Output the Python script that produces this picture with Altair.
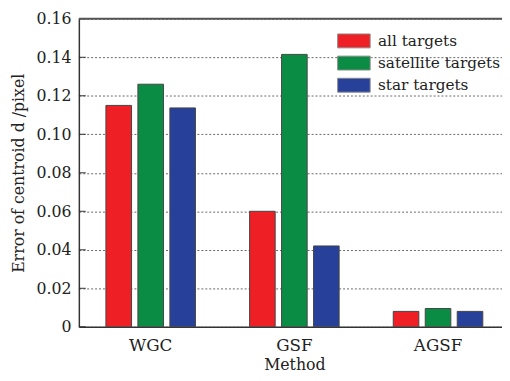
import altair as alt
import pandas as pd

methods = ["WGC", "GSF", "AGSF"]
series = ["all targets", "satellite targets", "star targets"]
all_targets = [0.115, 0.060, 0.008]
satellite_targets = [0.126, 0.1415, 0.0095]
star_targets = [0.1137, 0.042, 0.008]
colors = ["#EE2026", "#0A8C45", "#27419B"]
y_ticks = [0, 0.02, 0.04, 0.06, 0.08, 0.10, 0.12, 0.14, 0.16]

rows = []
for i, m in enumerate(methods):
    for s, vals in zip(series, [all_targets, satellite_targets, star_targets]):
        rows.append({"Method": m, "Series": s, "Value": vals[i]})
df = pd.DataFrame(rows)
ticks_df = pd.DataFrame({"Value": y_ticks})
top_df = pd.DataFrame({"Value": [0.16]})

FONT = "DejaVu Serif"

yscale = alt.Scale(domain=[0, 0.16], nice=False)
yaxis = alt.Axis(title="Error of centroid d /pixel", values=y_ticks,
                 labelExpr="datum.value == 0 ? '0' : format(datum.value, '.2f')",
                 labelOverlap=False, labelBound=False,
                 ticks=False, labelPadding=8, labelFont=FONT,
                 labelFontSize=16, labelColor="#222",
                 titleFont=FONT, titleFontSize=16, titleFontWeight="normal",
                 titleColor="#222", titlePadding=10,
                 grid=True, gridDash=[2, 2], gridColor="#666",
                 gridWidth=1, domainColor="#333", domainWidth=1.5)

bars = alt.Chart(df).mark_bar(stroke="#444444", strokeWidth=1).encode(
    x=alt.X("Method:N", sort=methods,
            scale=alt.Scale(range=[0, 438], paddingInner=0, paddingOuter=0),
            axis=alt.Axis(title="Method", labelAngle=0, ticks=False,
                          labelFont=FONT, labelFontSize=17, labelColor="#222",
                          labelPadding=11, titleFont=FONT, titleFontSize=16,
                          titleFontWeight="normal", titleColor="#222",
                          titlePadding=3, domainColor="#333", domainWidth=1.5)),
    xOffset=alt.XOffset("Series:N", sort=series,
                        scale=alt.Scale(paddingInner=0.2, paddingOuter=0.846)),
    y=alt.Y("Value:Q", scale=yscale, axis=yaxis),
    color=alt.Color("Series:N", sort=series,
                    scale=alt.Scale(domain=series, range=colors),
                    legend=alt.Legend(title=None, orient="none", legendX=268, legendY=11,
                                      symbolType="M-1.5,-0.64L1.5,-0.64L1.5,0.64L-1.5,0.64Z",
                                      symbolSize=484, symbolStrokeColor="#888",
                                      symbolStrokeWidth=1,
                                      labelFont=FONT, labelFontSize=15.5,
                                      labelColor="#222", labelOffset=13,
                                      padding=0, rowPadding=1.5)),
)

tick_marks = alt.Chart(ticks_df).mark_rule(color="#333", strokeWidth=1).encode(
    y=alt.Y("Value:Q", scale=yscale, axis=yaxis),
    x=alt.value(0), x2=alt.value(7),
)

top_line = alt.Chart(top_df).mark_rule(color="#555", strokeWidth=2).encode(
    y=alt.Y("Value:Q", scale=yscale, axis=yaxis),
)

chart = alt.layer(bars, tick_marks, top_line).properties(
    width=430, height=313,
    autosize=alt.AutoSizeParams(type="none"),
    padding={"left": 72, "top": 8, "right": 0, "bottom": 44},
).configure_view(stroke=None)

chart.save("out.html", embed_options={"renderer": "svg", "actions": False})
